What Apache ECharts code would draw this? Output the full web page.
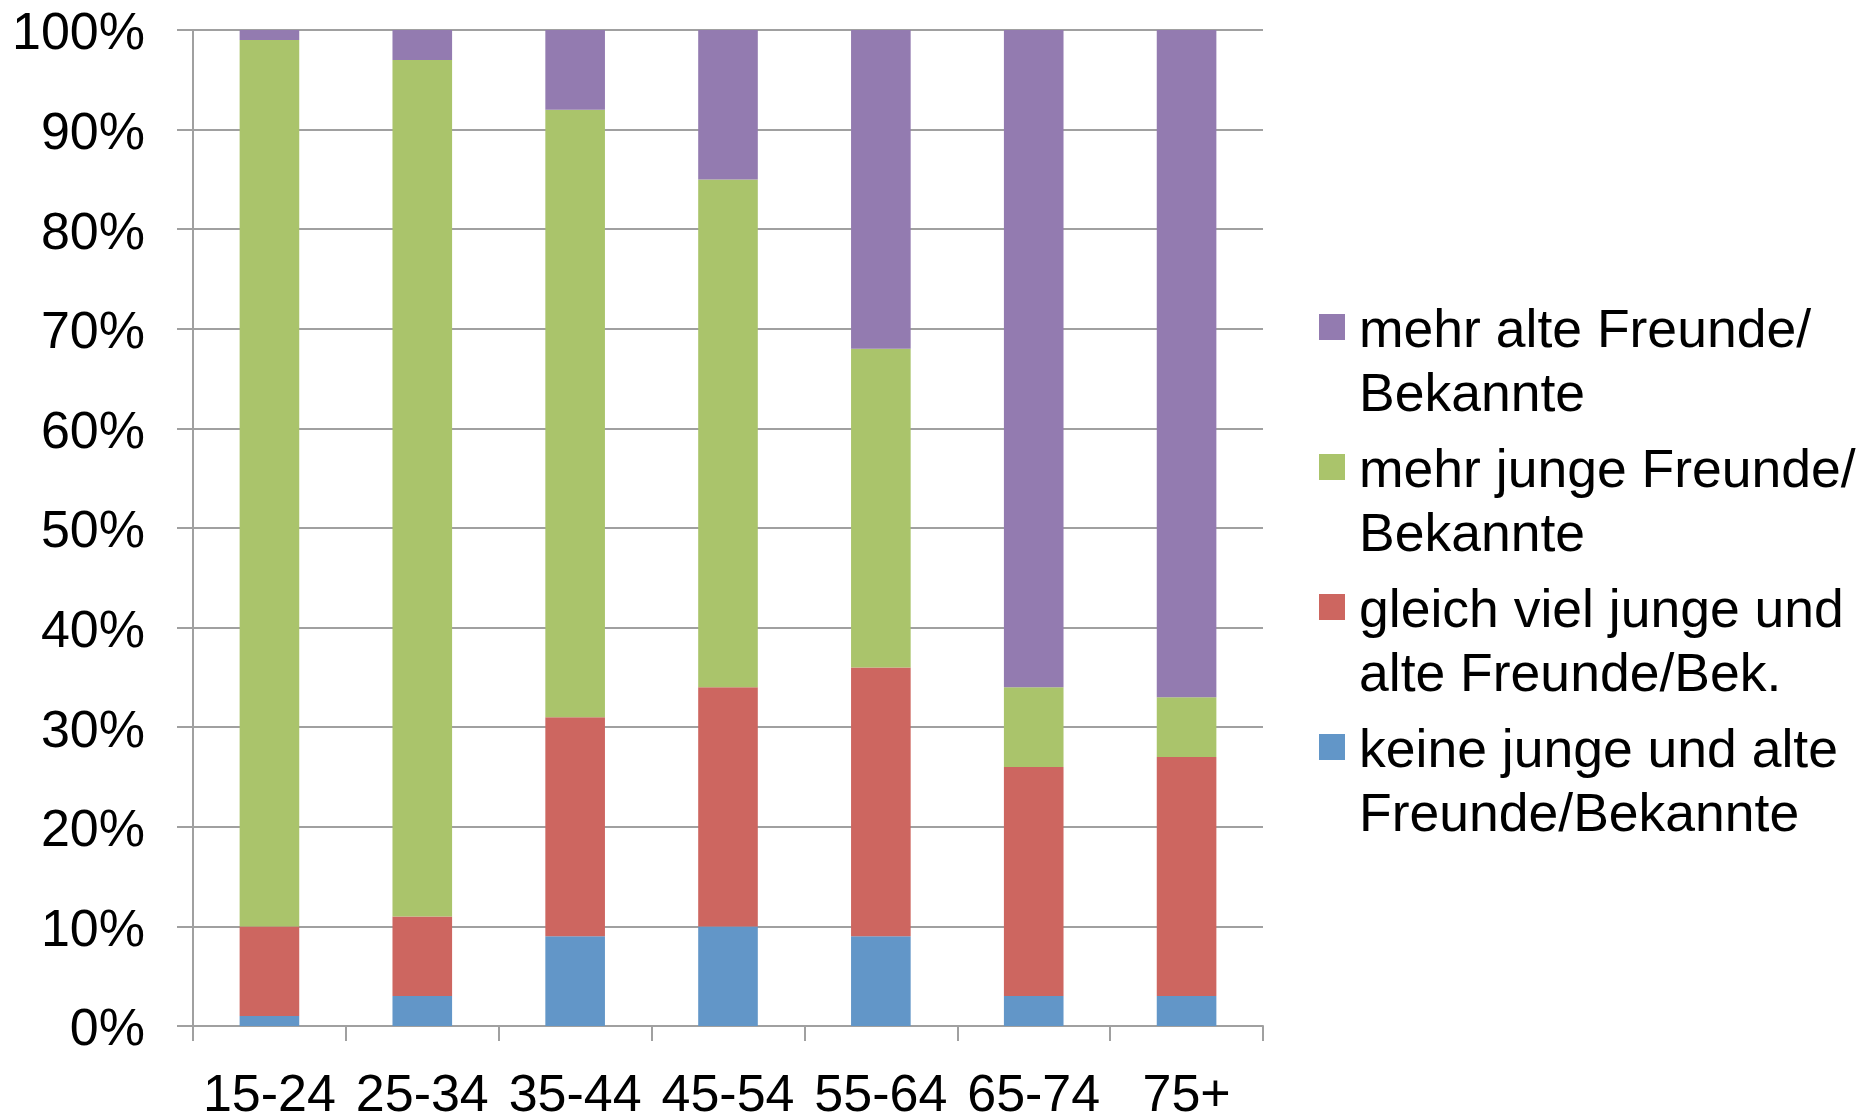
<!DOCTYPE html>
<html>
<head>
<meta charset="utf-8">
<script src="https://cdn.jsdelivr.net/npm/echarts@6/dist/echarts.min.js"></script>
<style>
html,body{margin:0;padding:0;background:#fff;}
#chart{width:1858px;height:1114px;}
</style>
</head>
<body>
<div id="chart"></div>
<script>
const categories = ['15-24', '25-34', '35-44', '45-54', '55-64', '65-74', '75+'];
const keine = [1, 3, 9, 10, 9, 3, 3];
const gleich = [9, 8, 22, 24, 27, 23, 24];
const mehrJunge = [89, 86, 61, 51, 32, 8, 6];
const mehrAlte = [1, 3, 8, 15, 32, 66, 67];
const seriesNames = [
  'keine junge und alte\nFreunde/Bekannte',
  'gleich viel junge und\nalte Freunde/Bek.',
  'mehr junge Freunde/\nBekannte',
  'mehr alte Freunde/\nBekannte'
];
const yTicks = [0, 10, 20, 30, 40, 50, 60, 70, 80, 90, 100];

const colors = ['#6296c8', '#cd6660', '#aac46b', '#937bb0'];
const FONT = '"Liberation Sans", Arial, sans-serif';
const values = [keine, gleich, mehrJunge, mehrAlte];

const chart = echarts.init(document.getElementById('chart'), null, {renderer: 'canvas'});
const legendIcon = 'path://M0,0h0.01v0.01h-0.01z M0,14h26v26h-26z M0,127.99h0.01v0.01h-0.01z';

chart.setOption({
  animation: false,
  backgroundColor: '#ffffff',
  grid: {left: 193, right: 595, top: 30, bottom: 88, containLabel: false, outerBoundsMode: 'none'},
  legend: {
    orient: 'vertical',
    left: 1319,
    top: 300,
    padding: 0,
    itemGap: 12,
    itemWidth: 26,
    itemHeight: 128,
    icon: legendIcon,
    data: [seriesNames[3], seriesNames[2], seriesNames[1], seriesNames[0]],
    textStyle: {fontFamily: FONT, fontSize: 53.5, lineHeight: 64, color: '#000', padding: [0, 0, 0, 9]}
  },
  xAxis: {
    type: 'category',
    data: categories,
    axisLine: {show: true, lineStyle: {color: '#a0a0a0', width: 2}},
    axisTick: {show: true, length: 15, interval: 0, lineStyle: {color: '#a0a0a0', width: 2}},
    axisLabel: {fontFamily: FONT, fontSize: 52, color: '#000', margin: 45, interval: 0}
  },
  yAxis: {
    type: 'value',
    min: yTicks[0],
    max: yTicks[yTicks.length - 1],
    interval: 10,
    axisLine: {show: true, lineStyle: {color: '#a0a0a0', width: 2}},
    axisTick: {show: true, length: 16, lineStyle: {color: '#a0a0a0', width: 2}},
    splitLine: {show: true, lineStyle: {color: '#a0a0a0', width: 2}},
    axisLabel: {
      fontFamily: FONT, fontSize: 52, color: '#000', margin: 48,
      formatter: function (v) { return '{t|' + v + '%}'; },
      rich: {t: {fontFamily: FONT, fontSize: 52, color: '#000', padding: [10, 0, 0, 0]}}
    }
  },
  series: values.map((v, i) => ({
    name: seriesNames[i],
    type: 'bar',
    stack: 'total',
    data: v,
    barWidth: '39%',
    itemStyle: {color: colors[i]}
  }))
});
</script>
</body>
</html>
